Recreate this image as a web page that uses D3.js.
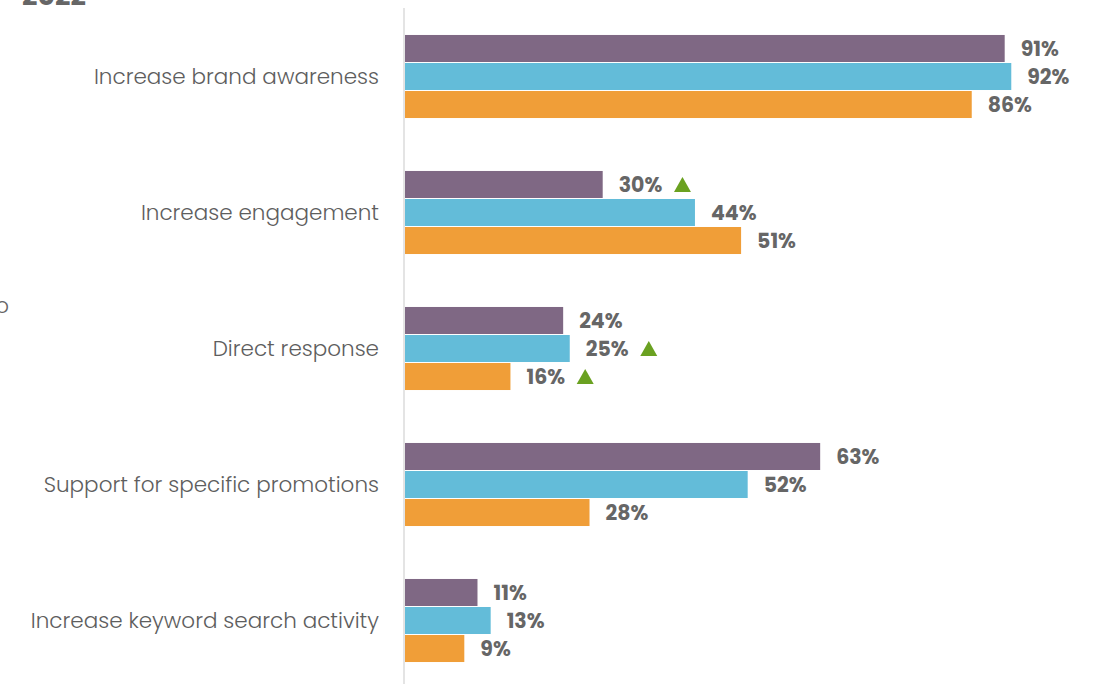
<!DOCTYPE html>
<html>
<head>
<meta charset="utf-8">
<script src="https://cdn.jsdelivr.net/npm/d3@7"></script>
<style>
  html, body { margin: 0; padding: 0; background: #fff; }
  svg { display: block; }
</style>
</head>
<body>
<svg id="chart" width="1094" height="684"></svg>
<script>
// Objectives and the share of respondents citing each one
const categories = [
  "Increase brand awareness",
  "Increase engagement",
  "Direct response",
  "Support for specific promotions",
  "Increase keyword search activity"
];
const seriesNames = ["2020", "2021", "2022"];
const values2020 = [91, 30, 24, 63, 11];
const values2021 = [92, 44, 25, 52, 13];
const values2022 = [86, 51, 16, 28, 9];
// Significant increases are flagged with an up-arrow after the value
const up2020 = [false, true, false, false, false];
const up2021 = [false, false, true, false, false];
const up2022 = [false, false, true, false, false];
const colors = ["#7f6884", "#63bcd9", "#f09e38"];

const svg = d3.select("#chart");
const W = 1094, H = 684;

const x = d3.scaleLinear().domain([0, 100]).range([405, 1064]);
const y0 = d3.scaleBand().domain(categories).range([9, 689]).paddingInner(0.382).paddingOuter(0.191);
const y1 = d3.scaleBand().domain(seriesNames).range([0, y0.bandwidth()]).padding(0);

const rows = categories.map((c, i) => ({
  cat: c,
  items: [values2020, values2021, values2022].map((arr, j) => ({
    s: seriesNames[j], v: arr[i], up: [up2020, up2021, up2022][j][i], color: colors[j]
  }))
}));

// Title fragments sitting at the edge of the frame
svg.append("text").attr("x", 22).attr("y", 5)
  .attr("font-family", "Poppins, 'Open Sans', sans-serif").attr("font-weight", 700)
  .attr("font-size", 27).attr("fill", "#666").text("2022");
svg.append("text").attr("x", 9).attr("y", 313).attr("text-anchor", "end")
  .attr("font-family", "Poppins, 'DejaVu Sans', sans-serif").attr("font-size", 21)
  .attr("font-weight", 300)
  .attr("fill", "#666").text("o");

// Baseline
svg.append("line").attr("x1", 404).attr("x2", 404).attr("y1", 8).attr("y2", H)
  .attr("stroke", "#e4e4e4").attr("stroke-width", 2);

const g = svg.selectAll("g.row").data(rows).join("g")
  .attr("class", "row")
  .attr("transform", d => `translate(0,${y0(d.cat)})`);

g.append("text")
  .attr("x", 379).attr("y", y0.bandwidth() / 2 - 1).attr("dy", "0.35em")
  .attr("text-anchor", "end")
  .attr("font-family", "Poppins, 'DejaVu Sans', sans-serif").attr("font-size", 21.5)
  .attr("font-weight", 300)
  .attr("fill", "#5e5e5e")
  .text(d => d.cat);

const bars = g.selectAll("g.bar").data(d => d.items).join("g").attr("class", "bar");

bars.append("rect")
  .attr("x", x(0))
  .attr("y", d => y1(d.s))
  .attr("width", d => x(d.v) - x(0))
  .attr("height", y1.bandwidth() - 1)
  .attr("fill", d => d.color);

bars.append("text")
  .attr("class", "val")
  .attr("x", d => x(d.v) + 16)
  .attr("y", d => y1(d.s) + y1.bandwidth() / 2)
  .attr("dy", "0.36em")
  .attr("font-family", "Poppins, 'Open Sans', sans-serif").attr("font-weight", 700)
  .attr("font-size", 20.5)
  .attr("fill", "#666")
  .text(d => d.v + "%");

// Up-arrow markers after flagged values
bars.filter(d => d.up).each(function(d) {
  const t = d3.select(this).select("text.val").node();
  const bb = t.getBBox();
  const cx = bb.x + bb.width + 20;
  const cy = y1(d.s) + y1.bandwidth() / 2;
  d3.select(this).append("path")
    .attr("d", `M${cx - 8.5},${cy + 7} L${cx + 8.5},${cy + 7} L${cx},${cy - 8} Z`)
    .attr("fill", "#6aa121");
});
</script>
</body>
</html>
